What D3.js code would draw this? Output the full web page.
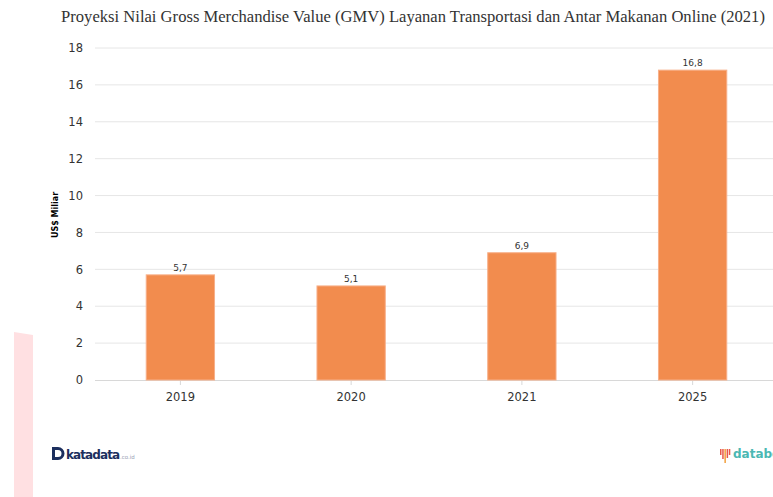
<!DOCTYPE html>
<html>
<head>
<meta charset="utf-8">
<script src="https://cdn.jsdelivr.net/npm/d3@7"></script>
<style>
  body { margin: 0; background: #fff; }
  svg { display: block; }
</style>
</head>
<body>
<div id="svganchor"></div>
<script>
let width = 773;
let height = 497;
let margin = { top: 48, right: -5, bottom: 117, left: 95 };

// data
let years = ["2019", "2020", "2021", "2025"];
let gmv = [5.7, 5.1, 6.9, 16.8];
let yTicks = [0, 2, 4, 6, 8, 10, 12, 14, 16, 18];

let svg = d3.select("#svganchor").append("svg").attr("width", width).attr("height", height);

// pink strip on the left
svg.append("path")
  .attr("d", "M14,332 L33,335 L33,497 L14,497 Z")
  .attr("fill", "#ffe0e2");

// title
svg.append("text")
  .attr("x", 413)
  .attr("y", 22)
  .attr("text-anchor", "middle")
  .attr("font-family", "Liberation Serif, Times New Roman, serif")
  .attr("font-size", 16.6)
  .attr("fill", "#333")
  .text("Proyeksi Nilai Gross Merchandise Value (GMV) Layanan Transportasi dan Antar Makanan Online (2021)");

let xScale = d3.scaleBand()
  .domain(years)
  .range([margin.left, width - margin.right])
  .paddingInner(0.6)
  .paddingOuter(0.3);

let yScale = d3.scaleLinear()
  .domain([0, 18])
  .range([height - margin.bottom, margin.top]);

// gridlines
svg.append("g")
  .selectAll("line")
  .data(yTicks.filter(d => d > 0))
  .enter()
  .append("line")
  .attr("x1", margin.left)
  .attr("x2", width)
  .attr("y1", d => yScale(d))
  .attr("y2", d => yScale(d))
  .attr("stroke", "#e6e6e6")
  .attr("stroke-width", 1);

// y axis labels
let yAxis = d3.axisLeft(yScale).tickValues(yTicks).tickSize(0).tickPadding(12);
svg.append("g")
  .attr("class", "y axis")
  .attr("transform", "translate(" + margin.left + ",0)")
  .call(yAxis)
  .call(g => g.select(".domain").remove())
  .call(g => g.selectAll("text")
    .attr("font-family", "DejaVu Sans, Verdana, sans-serif")
    .attr("font-size", 11.5)
    .attr("fill", "#333"));

// y axis title
svg.append("text")
  .attr("transform", "translate(58," + 215 + ") rotate(-90)")
  .attr("text-anchor", "middle")
  .attr("font-family", "DejaVu Sans, Verdana, sans-serif")
  .attr("font-size", 8)
  .attr("font-weight", "bold")
  .attr("fill", "#000")
  .text("US$ Miliar");

// x axis
let xAxis = d3.axisBottom(xScale).tickSize(5).tickPadding(8);
svg.append("g")
  .attr("class", "x axis")
  .attr("transform", "translate(0," + (height - margin.bottom) + ")")
  .call(xAxis)
  .call(g => g.select(".domain").attr("stroke", "#d8d8d8").attr("d", "M" + margin.left + ",0.5H" + width))
  .call(g => g.selectAll(".tick line").attr("stroke", "#d8d8d8"))
  .call(g => g.selectAll("text")
    .attr("font-family", "DejaVu Sans, Verdana, sans-serif")
    .attr("font-size", 11.5)
    .attr("fill", "#333"));

// bars
svg.append("g")
  .selectAll("rect")
  .data(years)
  .enter()
  .append("rect")
  .attr("x", d => xScale(d))
  .attr("width", xScale.bandwidth())
  .attr("y", (d, i) => yScale(gmv[i]))
  .attr("height", (d, i) => yScale(0) - yScale(gmv[i]))
  .attr("fill", "#f28c4e")
  .attr("stroke", "#f7b08a")
  .attr("stroke-width", 1);

// value labels
svg.append("g")
  .selectAll("text")
  .data(years)
  .enter()
  .append("text")
  .attr("x", d => xScale(d) + xScale.bandwidth() / 2)
  .attr("y", (d, i) => yScale(gmv[i]) - 4)
  .attr("text-anchor", "middle")
  .attr("font-family", "DejaVu Sans, Verdana, sans-serif")
  .attr("font-size", 9)
  .attr("fill", "#333")
  .text((d, i) => String(gmv[i]).replace(".", ","));

// katadata logo
let kata = svg.append("g").attr("transform", "translate(52,447)");
kata.append("path")
  .attr("d", "M0,0 H6 A6.5,6.5 0 0 1 6,13 H0 Z M3,3 V10 H6 A3.5,3.5 0 0 0 6,3 Z")
  .attr("fill", "#1c2f5e")
  .attr("fill-rule", "evenodd");
kata.append("text")
  .attr("x", 14)
  .attr("y", 12)
  .attr("font-family", "DejaVu Sans, Verdana, sans-serif")
  .attr("font-size", 12)
  .attr("font-weight", "bold")
  .attr("letter-spacing", -0.9)
  .attr("fill", "#1c2f5e")
  .text("katadata");
kata.append("text")
  .attr("x", 68)
  .attr("y", 12)
  .attr("font-family", "DejaVu Sans, Verdana, sans-serif")
  .attr("font-size", 5.5)
  .attr("fill", "#9aa3b5")
  .text(".co.id");

// databoks logo
let dbk = svg.append("g").attr("transform", "translate(720,445)");
let barsH = [6, 10, 14, 9, 6];
dbk.selectAll("rect")
  .data(barsH)
  .enter()
  .append("rect")
  .attr("x", (d, i) => i * 2.2)
  .attr("y", 4)
  .attr("width", 1.5)
  .attr("height", d => d)
  .attr("fill", (d, i) => i === 2 ? "#f2a03d" : "#e8594a");
dbk.append("text")
  .attr("x", 13)
  .attr("y", 13)
  .attr("font-family", "DejaVu Sans, Verdana, sans-serif")
  .attr("font-size", 12)
  .attr("font-weight", "bold")
  .attr("fill", "#4bb8b3")
  .text("databoks");
</script>
</body>
</html>
